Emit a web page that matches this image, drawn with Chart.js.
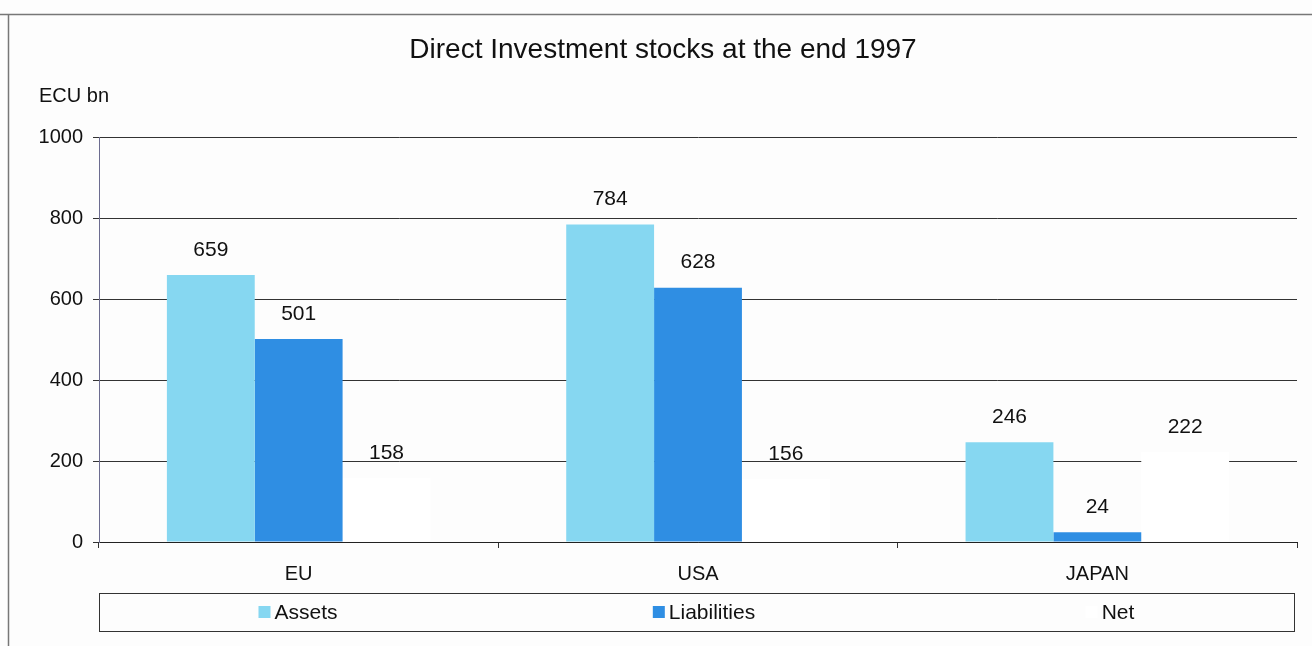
<!DOCTYPE html>
<html>
<head>
<meta charset="utf-8">
<script src="https://cdn.jsdelivr.net/npm/chart.js@4"></script>
<style>
  body { margin: 0; background: #fdfdfd; }
  #wrap { width: 1312px; height: 646px; position: relative; }
</style>
</head>
<body>
<div id="wrap"><canvas id="barChart" width="1312" height="646"></canvas></div>
<script>
// values
const categories = ['EU', 'USA', 'JAPAN'];
const assets = [659, 784, 246];
const liabilities = [501, 628, 24];
const net = [158, 156, 222];
const yTicks = [0, 200, 400, 600, 800, 1000];

const FONT = "'Liberation Sans', Arial, sans-serif";

// title, unit, frame, value labels and boxed legend
const decor = {
    id: 'decor',
    beforeDraw(chart) {
        const ctx = chart.ctx;
        ctx.save();
        ctx.fillStyle = '#fdfdfd';
        ctx.fillRect(0, 0, chart.width, chart.height);
        ctx.strokeStyle = '#777';
        ctx.lineWidth = 1.5;
        ctx.beginPath();
        ctx.moveTo(0, 14.5); ctx.lineTo(chart.width, 14.5);
        ctx.moveTo(8.5, 14.5); ctx.lineTo(8.5, chart.height);
        ctx.stroke();
        ctx.restore();
    },
    afterDatasetsDraw(chart) {
        const ctx = chart.ctx;
        ctx.save();
        ctx.fillStyle = '#111';
        ctx.font = '21px ' + FONT;
        ctx.textAlign = 'center';
        ctx.textBaseline = 'middle';
        chart.data.datasets.forEach((ds, i) => {
            chart.getDatasetMeta(i).data.forEach((bar, j) => {
                ctx.fillText(String(ds.data[j]), bar.x, bar.y - 25);
            });
        });
        ctx.restore();
    },
    afterDraw(chart) {
        const ctx = chart.ctx;
        ctx.save();
        ctx.fillStyle = '#111';
        ctx.textBaseline = 'middle';
        ctx.textAlign = 'center';
        ctx.font = '28px ' + FONT;
        ctx.fillText('Direct Investment stocks at the end 1997', 663, 50);
        ctx.textAlign = 'left';
        ctx.font = '20px ' + FONT;
        ctx.fillText('ECU bn', 39, 96);

        // legend box
        const bx = 99, by = 593, bw = 1195, bh = 38;
        ctx.strokeStyle = '#333';
        ctx.lineWidth = 1;
        ctx.strokeRect(bx + 0.5, by + 0.5, bw, bh);
        ctx.font = '21px ' + FONT;
        chart.data.datasets.forEach((ds, i) => {
            const cx = bx + 199 + i * 406;
            const tw = ctx.measureText(ds.label).width;
            const total = 12 + 4 + tw;
            const x0 = cx - total / 2;
            ctx.fillStyle = ds.backgroundColor;
            ctx.fillRect(x0, by + bh / 2 - 6, 12, 12);
            ctx.fillStyle = '#111';
            ctx.fillText(ds.label, x0 + 16, by + bh / 2 + 1);
        });
        ctx.restore();
    }
};

new Chart(document.getElementById('barChart'), {
    type: 'bar',
    data: {
        labels: categories,
        datasets: [
            { label: 'Assets', data: assets, backgroundColor: '#86d7f1' },
            { label: 'Liabilities', data: liabilities, backgroundColor: '#2f8ee3' },
            { label: 'Net', data: net, backgroundColor: '#ffffff' }
        ]
    },
    options: {
        responsive: false,
        animation: false,
        layout: { padding: { left: 0, right: 15, top: 137, bottom: 0 } },
        plugins: {
            legend: { display: false },
            title: { display: false },
            tooltip: { enabled: false }
        },
        datasets: {
            bar: { barPercentage: 1, categoryPercentage: 0.66 }
        },
        scales: {
            x: {
                grid: { display: true, drawOnChartArea: false, drawTicks: true, tickLength: 6, color: '#333', offset: true },
                border: { display: true, color: '#222', width: 1 },
                ticks: { color: '#111', font: { family: FONT, size: 20 }, padding: 14 },
                afterFit(scale) { scale.height = 104; }
            },
            y: {
                min: 0,
                max: 1000,
                afterBuildTicks(scale) { scale.ticks = yTicks.map(v => ({ value: v })); },
                grid: { color: '#333', lineWidth: 1, tickLength: 6 },
                border: { display: true, color: '#6c6c90', width: 1 },
                ticks: { color: '#111', font: { family: FONT, size: 20 }, padding: 10, callback: v => String(v) },
                afterFit(scale) { scale.width = 99; }
            }
        }
    },
    plugins: [decor]
});
</script>
</body>
</html>
